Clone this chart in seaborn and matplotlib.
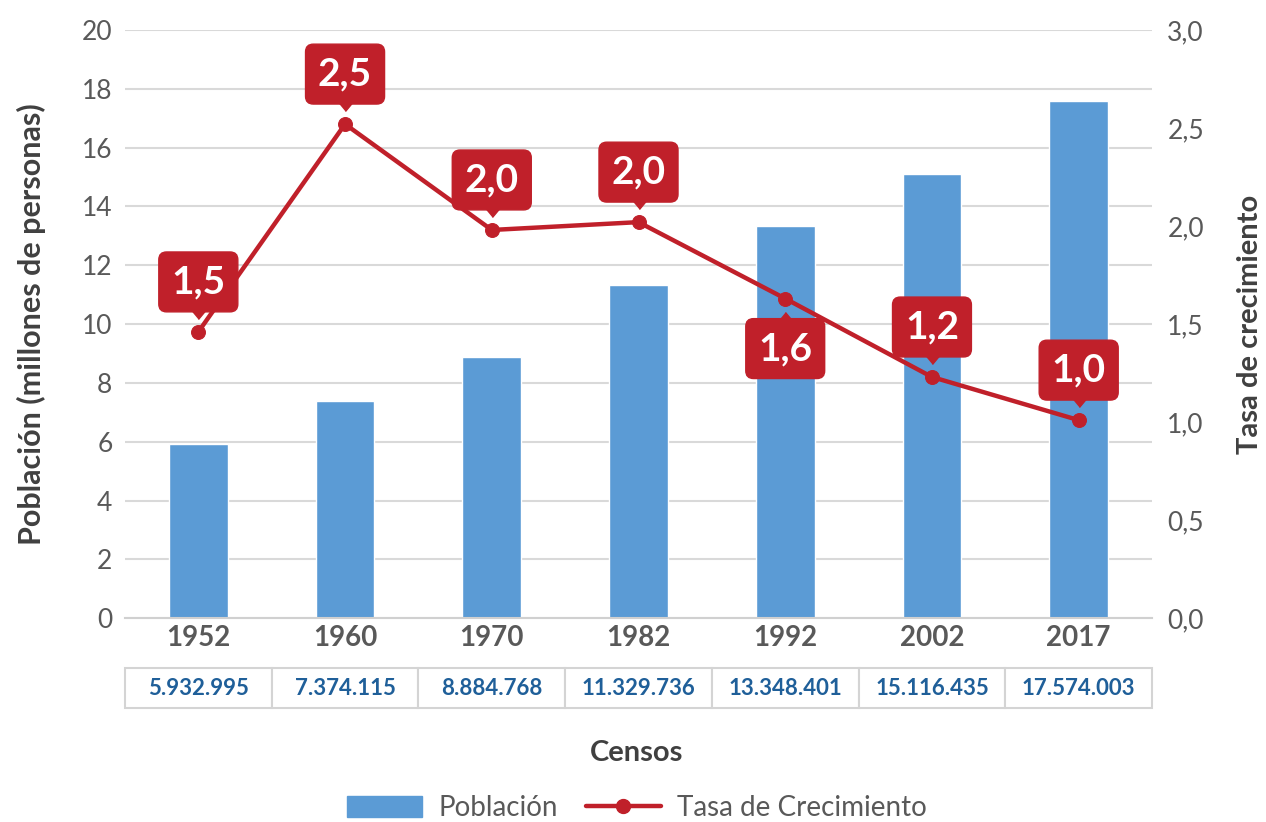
import numpy as np
import matplotlib
matplotlib.use("Agg")
import matplotlib.pyplot as plt
from matplotlib.lines import Line2D
from matplotlib.patches import Patch
from matplotlib.transforms import offset_copy
import seaborn as sns

# data
censos = ["1952", "1960", "1970", "1982", "1992", "2002", "2017"]
poblacion = [5932995, 7374115, 8884768, 11329736, 13348401, 15116435, 17574003]
tasa = [1.46, 2.52, 1.98, 2.02, 1.63, 1.23, 1.01]
# callout above (+1) or below (-1) the point
callout_side = [1, 1, 1, 1, -1, 1, 1]

BLUE = "#5b9bd5"
RED = "#c0202a"
GRAY = "#595959"
DARK = "#404040"

sns.set_theme(style="white")
plt.rcParams["font.family"] = ["Lato", "DejaVu Sans"]

fig = plt.figure(figsize=(12.66, 8.22), dpi=100)
ax = fig.add_axes([0.0987, 0.248, 0.8113, 0.7155])

pob_mill = [p / 1e6 for p in poblacion]
sns.barplot(x=censos, y=pob_mill, color=BLUE, width=0.4, saturation=1, ax=ax)
ax.set_ylim(0, 20)
ax.set_yticks(range(0, 21, 2))
ax.yaxis.grid(True, color="#d9d9d9", lw=1.5)
ax.set_axisbelow(True)
for s in ["top", "right", "left"]:
    ax.spines[s].set_visible(False)
ax.spines["bottom"].set_color("#d0d0d0")
ax.spines["bottom"].set_linewidth(1.5)
ax.tick_params(axis="y", labelsize=19, colors=GRAY, length=0, pad=9)
ax.tick_params(axis="x", labelsize=20, colors=GRAY, length=0, pad=5)
for t in ax.get_xticklabels():
    t.set_fontweight("bold")
ax.set_xlabel("")
ax.set_ylabel("Población (millones de personas)", fontsize=22, fontweight="bold",
              color=DARK, labelpad=26)

# growth rate on the secondary axis
ax2 = ax.twinx()
xs = np.arange(len(censos))
sns.lineplot(x=xs, y=tasa, ax=ax2, color=RED, lw=3.2, marker="o", markersize=10,
             markeredgecolor=RED, zorder=5)
ax2.set_ylim(0, 3.0)
rt = np.arange(0, 3.01, 0.5)
ax2.set_yticks(rt)
ax2.set_yticklabels([f"{v:.1f}".replace(".", ",") for v in rt])
ax2.tick_params(axis="y", labelsize=19, colors=GRAY, length=0, pad=11)
for s in ax2.spines.values():
    s.set_visible(False)
ax2.set_ylabel("Tasa de crecimiento", fontsize=21, fontweight="bold", color=DARK,
               labelpad=24)
ax2.set_xlim(-0.5, len(censos) - 0.5)

tri = [(-1, 0.6), (1, 0.6), (0, -0.6)]
for x, v, side in zip(xs, tasa, callout_side):
    lab = f"{v:.1f}".replace(".", ",")
    ax2.annotate(lab, xy=(x, v), xytext=(0, 36 * side), textcoords="offset points",
                 ha="center", va="center", fontsize=28, fontweight="bold", color="white",
                 bbox=dict(boxstyle="round,pad=0.32,rounding_size=0.2", fc=RED, ec=RED),
                 zorder=6)
    tr = offset_copy(ax2.transData, fig=fig, x=0, y=13 * side, units="points")
    m = tri if side > 0 else [(px, -py) for px, py in tri]
    ax2.plot([x], [v], transform=tr, marker=m, markersize=12, color=RED, ls="none",
             zorder=6)

# population values table under the axis
tbl = ax.table(cellText=[[f"{p:,}".replace(",", ".") for p in poblacion]],
               cellLoc="center", bbox=[0.0, -0.153, 1.0, 0.068])
tbl.auto_set_font_size(False)
for cell in tbl.get_celld().values():
    cell.set_edgecolor("#d4d4d4")
    cell.set_linewidth(1.5)
    cell.get_text().set_fontsize(16)
    cell.get_text().set_fontweight("bold")
    cell.get_text().set_color("#1f5f99")

fig.text(0.503, 0.084, "Censos", ha="center", va="center", fontsize=21,
         fontweight="bold", color=DARK)

handles = [Patch(facecolor=BLUE, edgecolor=BLUE),
           Line2D([0], [0], color=RED, lw=3.2, marker="o", markersize=10)]
fig.legend(handles, ["Población", "Tasa de Crecimiento"], loc="center",
           bbox_to_anchor=(0.503, 0.017), ncol=2, frameon=False, fontsize=20,
           handlelength=2.7, handleheight=0.75, columnspacing=1.0, handletextpad=0.6,
           labelcolor=GRAY)

fig.savefig("out.png", dpi=100)
